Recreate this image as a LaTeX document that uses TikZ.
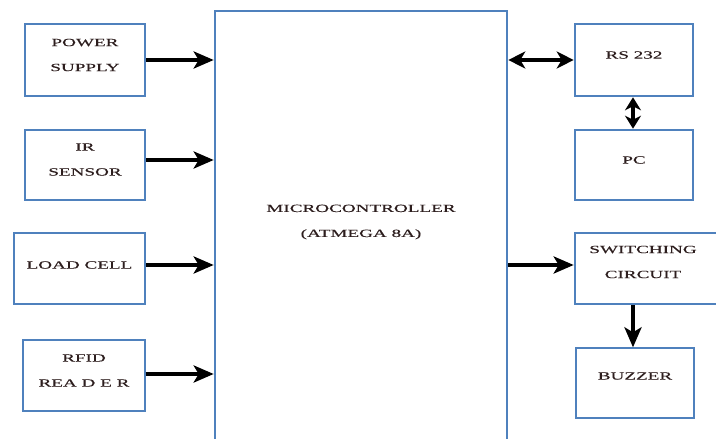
\documentclass[tikz,border=0pt]{standalone}
\usepackage{fontspec}
\setmainfont{Liberation Serif}
\newfontfamily\widefont[FakeStretch=1.74,FakeBold=0.3]{Liberation Serif}
\usetikzlibrary{arrows.meta}
\definecolor{bordblue}{RGB}{79,129,189}
\definecolor{txt}{RGB}{45,30,30}
\tikzset{
  box/.style={draw=bordblue, line width=2.6pt, rectangle, inner sep=0pt},
  thinbox/.style={draw=bordblue, line width=1.3pt, rectangle, inner sep=0pt},
  lbl/.style={font=\widefont\fontsize{11}{25}\selectfont, text=txt, align=center, inner sep=0pt},
  arr/.style={line width=3.8pt, -{Stealth[length=20pt,width=17pt,inset=5pt]}},
  darr/.style={line width=3.8pt, {Stealth[length=17pt,width=17pt,inset=5pt]}-{Stealth[length=17pt,width=17pt,inset=5pt]}},
  varr/.style={line width=3.8pt, {Stealth[length=13pt,width=16pt,inset=4pt]}-{Stealth[length=13pt,width=16pt,inset=4pt]}},
}
\begin{document}
\begin{tikzpicture}[x=1pt,y=-1pt]
\useasboundingbox (0,0) rectangle (716,439);
\fill[white] (0,0) rectangle (716,439);
\clip (0,0) rectangle (716,439);
% boxes
\node[box, minimum width=120, minimum height=72] (ps) at (85,60) {};
\node[box, minimum width=120, minimum height=70] (ir) at (85,165) {};
\node[box, minimum width=131, minimum height=71] (lc) at (79.5,268.5) {};
\node[thinbox, minimum width=122, minimum height=71] (rf) at (84,375.5) {};
\node[box, minimum width=292, minimum height=440] (mc) at (361,231) {};
\node[box, minimum width=118, minimum height=72] (rs) at (634,60) {};
\node[box, minimum width=118, minimum height=70] (pc) at (634,165) {};
\node[box, minimum width=146, minimum height=71] (sw) at (648,268.5) {};
\node[thinbox, minimum width=118, minimum height=70] (bz) at (635,383) {};
% labels
\node[lbl] (pst) at (85,55) {POWER\\SUPPLY};
\node[lbl] (irt) at (85,159.5) {IR\\SENSOR};
\node[lbl] (lct) at (79.5,265) {LOAD CELL};
\node[lbl] (rft) at (84,370.5) {RFID\\REA D E R};
\node[lbl] (mct) at (361,222) {MICROCONTROLLER\\(ATMEGA 8A)};
\node[lbl] (rst) at (634,55) {RS 232};
\node[lbl] (pct) at (634,160) {PC};
\node[lbl] (swt) at (643,262) {SWITCHING\\CIRCUIT};
\node[lbl] (bzt) at (635,376) {BUZZER};
% connectors
\draw[arr] (ps.east |- 0,60) -- (mc.west |- 0,60);
\draw[arr] (ir.east |- 0,160) -- (mc.west |- 0,160);
\draw[arr] (lc.east |- 0,265) -- (mc.west |- 0,265);
\draw[arr] (rf.east |- 0,374) -- (mc.west |- 0,374);
\draw[darr] (mc.east |- 0,60) -- (rs.west |- 0,60);
\draw[varr] (rs.south -| 633,0) -- (pc.north -| 633,0);
\draw[arr] (mc.east |- 0,265) -- (sw.west |- 0,265);
\draw[arr] (sw.south -| 633,0) -- (bz.north -| 633,0);
\end{tikzpicture}
\end{document}
